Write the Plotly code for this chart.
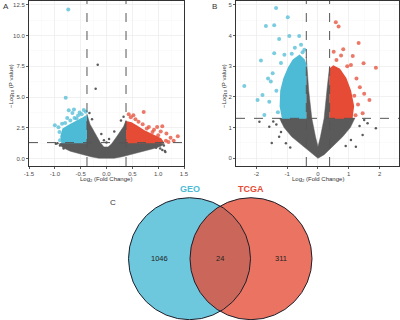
import plotly.graph_objects as go

# ---------------- data ----------------
# thresholds
fc_cut = 0.378
p_cut = 1.301

# Panel A: dense cloud envelopes (log2FC, -log10 P)
a_gray_x = [-0.92, -0.85, -0.7, -0.5, -0.3, -0.15, 0.0, 0.15, 0.3, 0.5, 0.7, 0.9, 1.05, 1.12, 1.0, 0.378,
            0.378, 0.33, 0.2, 0.1, 0.03, -0.05, -0.12, -0.22, -0.32, -0.378, -0.378, -0.86]
a_gray_y = [1.2, 0.9, 0.6, 0.35, 0.15, 0.03, 0.0, 0.03, 0.15, 0.35, 0.55, 0.8, 1.0, 1.2, 1.3, 1.3,
            3.1, 2.6, 1.8, 1.2, 0.95, 0.95, 1.3, 2.0, 2.8, 3.6, 1.3, 1.3]
a_blue_x = [-0.378, -0.86, -0.88, -0.84, -0.7, -0.55, -0.45, -0.378]
a_blue_y = [1.3, 1.3, 1.8, 2.4, 2.75, 3.05, 3.3, 3.5]
a_red_x = [0.378, 1.1, 1.05, 0.9, 0.75, 0.6, 0.48, 0.378]
a_red_y = [1.3, 1.3, 1.6, 1.9, 2.2, 2.6, 2.9, 3.0]
# Panel A: individual points
a_blue_pts_x = [-0.74, -0.79, -0.73, -0.63, -1.0, -0.86, -0.91, -0.4, -0.48, -0.55, -0.62, -0.7, -0.8, -0.66,
                -0.93, -0.9, -0.52, -0.44, -0.58, -0.76]
a_blue_pts_y = [12.1, 4.94, 3.92, 3.98, 2.70, 2.84, 2.16, 3.8, 3.6, 3.5, 3.3, 3.1, 2.9, 3.7,
                2.55, 1.5, 3.75, 3.95, 3.25, 3.3]
a_red_pts_x = [0.72, 1.38, 1.24, 1.16, 1.08, 0.98, 0.82, 0.89, 0.52, 0.43, 1.0, 0.95, 1.15, 1.2, 0.62, 0.7,
               0.78, 1.05, 1.3, 0.56, 0.47, 0.86, 0.92]
a_red_pts_y = [3.79, 1.81, 1.70, 2.03, 2.62, 2.57, 2.57, 2.16, 3.52, 3.6, 1.9, 1.5, 1.45, 1.35, 3.0, 2.8,
               2.45, 2.2, 1.45, 3.2, 3.35, 1.75, 2.35]
a_gray_pts_x = [-0.17, -0.21, -0.9, -0.83, -0.74, -0.95, 1.11, 1.04, 1.14, 0.96, -0.33, -0.28, -0.1, 0.05,
                0.15, 0.28, 0.33, 0.0, -0.05, 1.13, -0.98, 1.08]
a_gray_pts_y = [7.63, 5.67, 1.07, 0.83, 1.13, 1.25, 1.07, 0.83, 0.53, 0.88, 3.7, 3.2, 2.0, 1.6,
                2.2, 3.1, 3.4, 1.3, 1.5, 0.61, 1.2, 0.7]

# Panel B: dense cloud envelopes
b_gray_x = [-1.25, -1.1, -0.85, -0.5, -0.2, 0.0, 0.2, 0.45, 0.8, 1.05, 1.2, 0.378,
            0.378, 0.3, 0.2, 0.08, 0.0, -0.08, -0.2, -0.3, -0.378, -0.378]
b_gray_y = [1.31, 1.0, 0.7, 0.4, 0.15, 0.0, 0.12, 0.35, 0.7, 1.0, 1.31, 1.31,
            3.0, 2.3, 1.3, 0.7, 0.38, 0.7, 1.3, 2.2, 3.3, 1.31]
b_blue_x = [-0.378, -1.15, -1.22, -1.2, -1.1, -0.95, -0.8, -0.6, -0.45, -0.378]
b_blue_y = [1.31, 1.31, 1.7, 2.2, 2.6, 2.95, 3.2, 3.35, 3.2, 3.0]
b_red_x = [0.378, 1.1, 1.15, 1.05, 0.9, 0.7, 0.5, 0.378]
b_red_y = [1.31, 1.31, 1.7, 2.2, 2.6, 2.9, 3.0, 2.9]
b_blue_pts_x = [-1.36, -0.98, -1.69, -1.42, -2.39, -1.85, -1.96, -1.58, -1.80, -0.93, -0.61, -1.26, -0.44,
                -1.42, -1.09, -1.47, -1.53, -1.74, -1.3, -0.75, -0.55, -1.2, -1.35, -1.62, -0.5, -0.85]
b_blue_pts_y = [4.89, 4.59, 4.31, 4.33, 2.35, 3.18, 1.90, 1.84, 2.06, 3.98, 3.98, 3.88, 3.53,
                3.42, 3.37, 2.77, 2.50, 1.41, 1.5, 3.6, 3.7, 3.1, 2.2, 2.6, 3.45, 3.4]
b_red_pts_x = [0.58, 0.67, 1.32, 0.82, 0.51, 1.13, 1.48, 1.88, 1.07, 1.67, 1.45, 1.36, 1.18, 1.25, 0.95,
               0.6, 1.3, 1.5, 0.75, 1.22]
b_red_pts_y = [4.43, 4.29, 3.75, 3.55, 3.47, 3.33, 3.09, 2.95, 3.04, 1.90, 1.47, 2.31, 2.04, 2.6, 3.0,
               3.2, 1.75, 2.1, 3.35, 1.4]
b_gray_pts_x = [-1.9, -1.26, -1.2, -1.04, -1.58, -1.45, -1.35, 1.61, 1.45, 1.23, 1.88, 1.07, 1.35, 1.5,
                -1.5, -0.9, 0.9, -1.15]
b_gray_pts_y = [1.19, 0.70, 0.86, 0.49, 1.03, 1.2, 1.1, 1.14, 0.76, 0.38, 0.98, 0.6, 1.05, 1.25,
                0.5, 0.35, 0.4, 1.2]

# Venn
venn_sets = ["GEO", "TCGA"]
venn_counts = [1046, 24, 311]  # GEO only, both, TCGA only

# ---------------- styling ----------------
BLUE = "#4DBBD5"
RED = "#E64B35"
GRAY = "#5a5a5a"
FONT = "Liberation Sans, Arial, sans-serif"

fig = go.Figure()


def add_panel(xa, ya, gx, gy, bx, by, rx, ry, bpx, bpy, rpx, rpy, gpx, gpy):
    fig.add_trace(go.Scatter(x=gx, y=gy, fill="toself", mode="lines", fillcolor=GRAY,
                             line=dict(width=0.5, color=GRAY), xaxis=xa, yaxis=ya, hoverinfo="skip"))
    fig.add_trace(go.Scatter(x=gpx, y=gpy, mode="markers", marker=dict(size=2.5, color=GRAY),
                             xaxis=xa, yaxis=ya))
    fig.add_trace(go.Scatter(x=bx, y=by, fill="toself", mode="lines", fillcolor=BLUE,
                             line=dict(width=1.5, color=BLUE), xaxis=xa, yaxis=ya, hoverinfo="skip"))
    fig.add_trace(go.Scatter(x=rx, y=ry, fill="toself", mode="lines", fillcolor=RED,
                             line=dict(width=1.5, color=RED), xaxis=xa, yaxis=ya, hoverinfo="skip"))
    fig.add_trace(go.Scatter(x=bpx, y=bpy, mode="markers", marker=dict(size=4, color=BLUE, opacity=0.75),
                             xaxis=xa, yaxis=ya))
    fig.add_trace(go.Scatter(x=rpx, y=rpy, mode="markers", marker=dict(size=4, color=RED, opacity=0.75),
                             xaxis=xa, yaxis=ya))


add_panel("x", "y", a_gray_x, a_gray_y, a_blue_x, a_blue_y, a_red_x, a_red_y,
          a_blue_pts_x, a_blue_pts_y, a_red_pts_x, a_red_pts_y, a_gray_pts_x, a_gray_pts_y)
add_panel("x2", "y2", b_gray_x, b_gray_y, b_blue_x, b_blue_y, b_red_x, b_red_y,
          b_blue_pts_x, b_blue_pts_y, b_red_pts_x, b_red_pts_y, b_gray_pts_x, b_gray_pts_y)

# threshold lines
for xr, yr in (("x", "y"), ("x2", "y2")):
    for v in (-fc_cut, fc_cut):
        fig.add_shape(type="line", xref=xr, yref=f"{yr} domain", x0=v, x1=v, y0=0, y1=1,
                      line=dict(color="#555", width=1, dash="dash"), layer="above")
    fig.add_shape(type="line", xref=f"{xr} domain", yref=yr, x0=0, x1=1, y0=p_cut, y1=p_cut,
                  line=dict(color="#555", width=1, dash="dash"), layer="above")

W, H = 400, 320


def px(x):
    return x / W


def py(y):
    return 1 - y / H


axis_common = dict(showline=True, mirror=True, linecolor="#333", linewidth=1, ticks="outside",
                   ticklen=2, tickwidth=0.8, tickcolor="#333", zeroline=False, automargin=False,
                   showgrid=True, gridcolor="#ebebeb", gridwidth=0.6,
                   tickfont=dict(size=6, color="#4d4d4d", family=FONT))

fig.update_layout(
    template="none",
    width=W, height=H, margin=dict(l=0, r=0, t=0, b=0, pad=0, autoexpand=False),
    paper_bgcolor="white", plot_bgcolor="white", showlegend=False,
    xaxis=dict(domain=[px(29), px(184)], range=[-1.5, 1.5],
               tickvals=[-1.5, -1.0, -0.5, 0.0, 0.5, 1.0, 1.5],
               ticktext=["-1.5", "-1.0", "-0.5", "0.0", "0.5", "1.0", "1.5"],
               minor=dict(showgrid=True, gridcolor="#f4f4f4", dtick=0.25, gridwidth=0.4),
               anchor="y", **axis_common),
    yaxis=dict(domain=[py(166), py(1)], range=[-0.6, 12.8],
               tickvals=[0, 2.5, 5, 7.5, 10, 12.5],
               ticktext=["0.0", "2.5", "5.0", "7.5", "10.0", "12.5"],
               minor=dict(showgrid=True, gridcolor="#f4f4f4", dtick=1.25, gridwidth=0.4),
               anchor="x", **axis_common),
    xaxis2=dict(domain=[px(236), px(399)], range=[-2.66, 2.63],
                tickvals=[-2, -1, 0, 1, 2], ticktext=["-2", "-1", "0", "1", "2"],
                minor=dict(showgrid=True, gridcolor="#f4f4f4", dtick=0.5, gridwidth=0.4),
                anchor="y2", **axis_common),
    yaxis2=dict(domain=[py(166), py(1)], range=[-0.25, 5.12],
                tickvals=[0, 1, 2, 3, 4, 5], ticktext=["0", "1", "2", "3", "4", "5"],
                minor=dict(showgrid=True, gridcolor="#f4f4f4", dtick=0.5, gridwidth=0.4),
                anchor="x2", **axis_common),
)

ann = []
tf = dict(family=FONT, color="#333")
ann.append(dict(text="A", x=px(1), y=py(6), xanchor="left", yanchor="middle", font=dict(size=8, **tf)))
ann.append(dict(text="B", x=px(210), y=py(6), xanchor="left", yanchor="middle", font=dict(size=8, **tf)))
ann.append(dict(text="C", x=px(113), y=py(202), xanchor="center", yanchor="middle", font=dict(size=8, **tf)))
ann.append(dict(text="Log<sub>2</sub> (Fold Change)", x=px(106), y=py(179), xanchor="center",
                yanchor="middle", font=dict(size=6, **tf)))
ann.append(dict(text="Log<sub>2</sub> (Fold Change)", x=px(318), y=py(179), xanchor="center",
                yanchor="middle", font=dict(size=6, **tf)))
ann.append(dict(text="\u2212Log<sub>10</sub> (P value)", x=px(11), y=py(86), textangle=-90,
                xanchor="center", yanchor="middle", font=dict(size=6, **tf)))
ann.append(dict(text="\u2212Log<sub>10</sub> (P value)", x=px(224), y=py(86), textangle=-90,
                xanchor="center", yanchor="middle", font=dict(size=6, **tf)))

# Venn diagram
cy, r = 258.7, 61
centers = [189.5, 251.0]
fills = ["rgba(77,187,213,0.82)", "rgba(230,75,53,0.78)"]
for cx, fc in zip(centers, fills):
    fig.add_shape(type="circle", xref="paper", yref="paper", x0=px(cx - r), x1=px(cx + r),
                  y0=py(cy + r), y1=py(cy - r), fillcolor=fc, line=dict(width=0), layer="above")
for cx in centers:
    fig.add_shape(type="circle", xref="paper", yref="paper", x0=px(cx - r), x1=px(cx + r),
                  y0=py(cy + r), y1=py(cy - r), line=dict(color="#1f1f2a", width=1), layer="above")

for name, cx, col in zip(venn_sets, centers, [BLUE, RED]):
    ann.append(dict(text=f"<b>{name}</b>", x=px(cx), y=py(189), xanchor="center", yanchor="middle",
                    font=dict(size=9, family=FONT, color=col)))
for cnt, cx in zip(venn_counts, [159, 220, 281]):
    ann.append(dict(text=str(cnt), x=px(cx), y=py(cy), xanchor="center", yanchor="middle",
                    font=dict(size=7.5, family=FONT, color="#222")))

for a in ann:
    a.update(xref="paper", yref="paper", showarrow=False)
fig.update_layout(annotations=ann)

fig.write_html("out.html", config={"displayModeBar": False, "staticPlot": True},
               post_script="document.body.style.margin='0px';document.body.style.padding='0px';"
                           "document.body.style.overflow='hidden';")
